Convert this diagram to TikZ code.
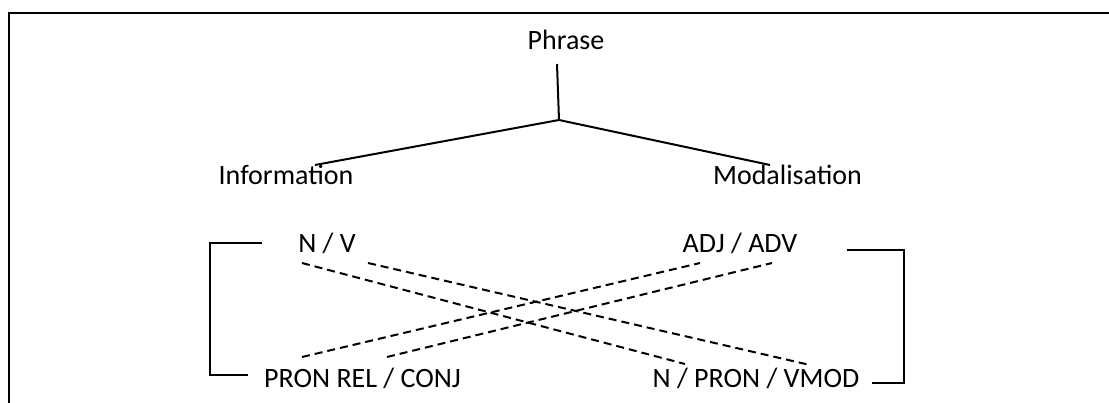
\documentclass[tikz,border=0pt]{standalone}
\usepackage{fontspec}
\setmainfont{Carlito}
\begin{document}
\begin{tikzpicture}[x=1pt,y=-1pt,
  lbl/.style={anchor=base,inner sep=0pt,font=\fontsize{28}{32}\selectfont},
  solidline/.style={line width=2pt,line cap=butt},
  dashline/.style={line width=2pt,dash pattern=on 8pt off 5pt},
  framel/.style={line width=2.6pt}]
\useasboundingbox (0,0) rectangle (1109,403);
% frame
\coordinate (fb) at (9,404);
\coordinate (fc) at (9,13);
\coordinate (fr) at (1110,13);
\draw[framel] (fb) -- (fc) -- (fr);
% texts
\node[lbl] (phrase) at (566,50) {Phrase};
\node[lbl] (info) at (286,185) {Information};
\node[lbl] (modal) at (787.5,185) {Modalisation};
\node[lbl] (nv) at (327,253) {N / V};
\node[lbl] (adj) at (740,253) {ADJ / ADV};
\node[lbl] (pron) at (362.5,388) {PRON REL / CONJ};
\node[lbl] (npron) at (756,388) {N / PRON / VMOD};
% tree
\coordinate (top) at (557,64);
\coordinate (junc) at (559,120);
\coordinate (lend) at (315,165);
\coordinate (rend) at (770,165);
\draw[solidline] (top) -- (junc);
\draw[solidline] (lend) -- (junc) -- (rend);
% brackets
\coordinate (lb1) at (262,243);
\coordinate (lb2) at (210,243);
\coordinate (lb3) at (210,375);
\coordinate (lb4) at (248,375);
\draw[solidline] (lb1) -- (lb2) -- (lb3) -- (lb4);
\coordinate (rb1) at (847,250);
\coordinate (rb2) at (904,250);
\coordinate (rb3) at (904,383);
\coordinate (rb4) at (872,383);
\draw[solidline] (rb1) -- (rb2) -- (rb3) -- (rb4);
% dashed crossings
\coordinate (a1) at (302,263);
\coordinate (a2) at (368,263);
\coordinate (b1) at (685,364);
\coordinate (b2) at (810,365);
\coordinate (c1) at (302,357);
\coordinate (c2) at (387,357);
\coordinate (d1) at (700,263);
\coordinate (d2) at (772,263);
\draw[dashline] (a1) -- (b1);
\draw[dashline] (a2) -- (b2);
\draw[dashline] (c1) -- (d1);
\draw[dashline] (c2) -- (d2);
\end{tikzpicture}
\end{document}
